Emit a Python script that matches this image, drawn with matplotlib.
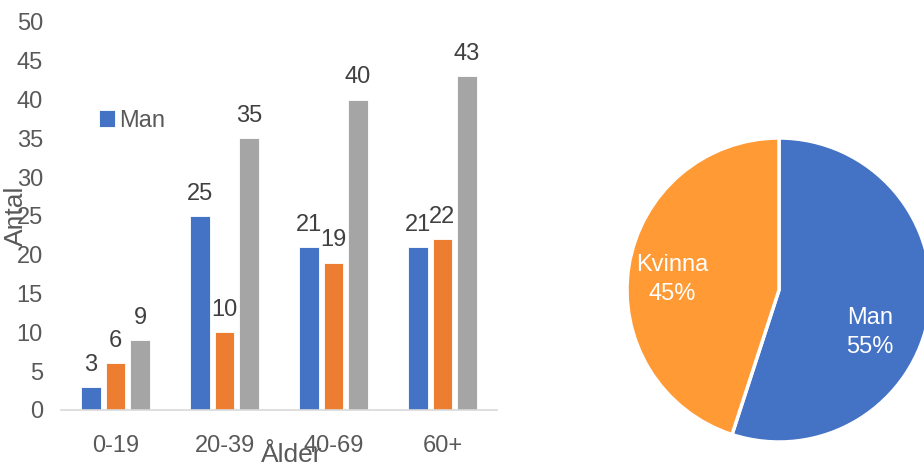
import matplotlib.pyplot as plt
import numpy as np

plt.rcParams['font.family'] = ['Liberation Sans', 'DejaVu Sans']

# Antal per åldersgrupp
aldrar = ['0-19', '20-39', '40-69', '60+']
man = [3, 25, 21, 21]
kvinna = [6, 10, 19, 22]
totalt = [9, 35, 40, 43]

# Könsfördelning
kon_namn = ['Man', 'Kvinna']
kon_andel = [55, 45]

BLA = '#4472C4'
ORANGE = '#ED7D31'
GRA = '#A5A5A5'
PIE_ORANGE = '#FF9A35'
TEXT = '#595959'

W, H = 924, 468
fig = plt.figure(figsize=(W / 100, H / 100), dpi=100)

# --- Stapeldiagram ---
ax = fig.add_axes([61 / W, (H - 410) / H, 436 / W, 388 / H])
x = np.arange(len(aldrar))
bw = 0.175
step = 0.225
serier = [(man, BLA), (kvinna, ORANGE), (totalt, GRA)]
bars = []
for i, (vals, col) in enumerate(serier):
    b = ax.bar(x + (i - 1) * step, vals, width=bw, color=col, edgecolor='white', linewidth=0.6)
    bars.append(b)
    for xi, v in zip(x + (i - 1) * step, vals):
        ax.annotate(str(v), (xi, v), xytext=(0, 8), textcoords='offset points',
                    ha='center', va='bottom', fontsize=17, color='#404040')

ax.set_xlim(-0.5, 3.5)
ax.set_ylim(0, 50)
ax.set_yticks(range(0, 51, 5))
ax.set_xticks(x)
ax.set_xticklabels(aldrar)
ax.tick_params(axis='both', length=0, labelsize=17, colors=TEXT)
ax.tick_params(axis='y', pad=13)
ax.tick_params(axis='x', pad=18)
for s in ['top', 'right', 'left']:
    ax.spines[s].set_visible(False)
ax.spines['bottom'].set_color('#D9D9D9')
ax.spines['bottom'].set_linewidth(1.2)

ax.set_ylabel('Antal', fontsize=19, color=TEXT)
ax.yaxis.set_label_coords(-0.075, 0.5)
ax.set_xlabel('Ålder', fontsize=19, color=TEXT)
ax.xaxis.set_label_coords(0.53, -0.085)

ax.legend(handles=[bars[0]], labels=['Man'], loc='center left',
          bbox_to_anchor=(0.06, 0.745), frameon=False, fontsize=17,
          handlelength=0.7, handleheight=0.7, handletextpad=0.15,
          borderpad=0, labelcolor=TEXT)

# --- Cirkeldiagram ---
r = 152
cx, cy = 779, 290
pax = fig.add_axes([(cx - r) / W, (H - cy - r) / H, 2 * r / W, 2 * r / H])
wedges, texts = pax.pie(kon_andel, colors=[BLA, PIE_ORANGE], startangle=90,
                        counterclock=False, radius=1.0,
                        wedgeprops=dict(edgecolor='white', linewidth=2.5))
etiketter = [f'{n}\n{p}%' for n, p in zip(kon_namn, kon_andel)]
pax.text(0.6, -0.28, etiketter[0], ha='center', va='center', color='white',
         fontsize=17, linespacing=1.45)
pax.text(-0.70, 0.07, etiketter[1], ha='center', va='center', color='white',
         fontsize=17, linespacing=1.45)
pax.set_xlim(-1, 1)
pax.set_ylim(-1, 1)
pax.set_aspect('equal')
pax.axis('off')

fig.savefig('out.png', dpi=100)
